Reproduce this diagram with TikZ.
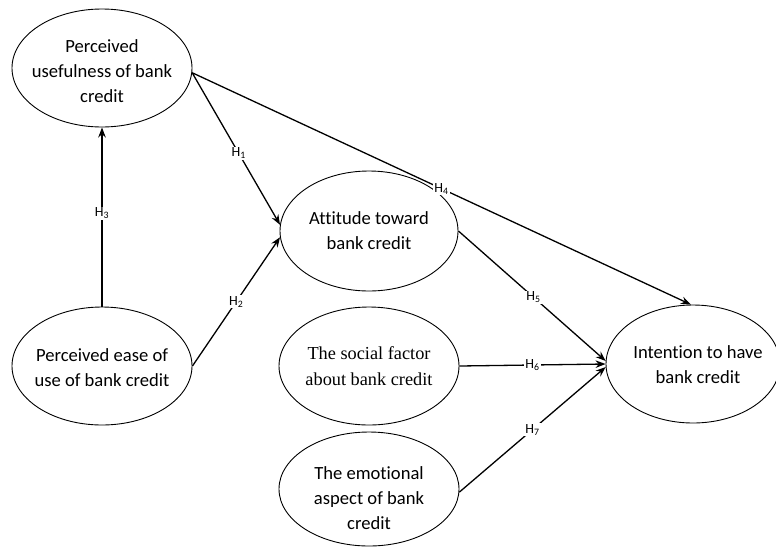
\documentclass[tikz,border=0pt]{standalone}
\usepackage{fontspec}
\setmainfont{Carlito}[Ligatures=NoCommon]
\newfontfamily\timesf{Liberation Serif}
\usetikzlibrary{shapes.geometric,arrows.meta}
\begin{document}
\begin{tikzpicture}[x=1pt,y=-1pt,
  ell/.style={ellipse,draw,line width=0.9pt,minimum width=180pt,minimum height=118pt,inner sep=0pt},
  txt/.style={align=center,inner sep=0pt,font=\fontsize{18.6}{25}\selectfont},
  ttxt/.style={align=center,inner sep=0pt,font=\timesf\fontsize{18.3}{26.5}\selectfont},
  conn/.style={line width=1.3pt,-{Stealth[length=10pt,width=7.5pt]}},
  hl/.style={fill=white,inner sep=1pt,font=\fontsize{14}{15}\selectfont}]
\clip (0,0) rectangle (776,547);
% ellipses
\node[ell] (pu) at (102,68) {};
\node[txt] (put) at (102,71) {Perceived\\usefulness of bank\\credit};
\node[ell] (pe) at (102,366) {};
\node[txt] (pet) at (102,368) {Perceived ease of\\use of bank credit};
\node[ell,minimum width=178pt,minimum height=120pt] (att) at (369,231) {};
\node[txt] (attt) at (369,231) {Attitude toward\\bank credit};
\node[ell] (soc) at (369,366) {};
\node[ttxt] (soct) at (369,366) {The social factor\\about bank credit};
\node[ell,minimum height=114pt] (emo) at (369,489) {};
\node[txt] (emot) at (369,498) {The emotional\\aspect of bank\\credit};
\node[ell,minimum width=174pt,minimum height=118pt] (int) at (693,364) {};
\node[txt] (intt) at (698,365) {Intention to have\\bank credit};
% connectors
\draw[conn] (pe.north) -- node[hl,pos=0.52]{H\textsubscript{3}} (pu.south);
\draw[conn] (pu.-3) -- node[hl,pos=0.53]{H\textsubscript{1}} (att.176);
\draw[conn] (pe.east) -- node[hl,pos=0.5]{H\textsubscript{2}} (att.184);
\draw[conn] (pu.-3) -- node[hl,pos=0.5]{H\textsubscript{4}} (int.92);
\draw[conn] (att.east) -- node[hl,pos=0.51]{H\textsubscript{5}} (int.178);
\draw[conn] (soc.east) -- node[hl,pos=0.5]{H\textsubscript{6}} (int.180);
\draw[conn] (emo.-2) -- node[hl,pos=0.5]{H\textsubscript{7}} (int.182);
\end{tikzpicture}
\end{document}
